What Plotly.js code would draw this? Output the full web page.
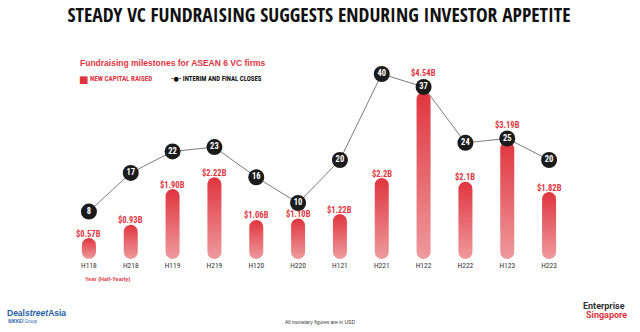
<!DOCTYPE html>
<html>
<head>
<meta charset="utf-8">
<script src="https://cdn.plot.ly/plotly-3.0.1.min.js"></script>
<style>html,body{margin:0;padding:0;background:#fff;}#chart{width:640px;height:332px;}</style>
</head>
<body>
<div id="chart"></div>
<script>
// ---- data ----
const periods = ["H118","H218","H119","H219","H120","H220","H121","H221","H122","H222","H123","H223"];
const capitalRaised = [0.57, 0.93, 1.90, 2.22, 1.06, 1.10, 1.22, 2.2, 4.54, 2.1, 3.19, 1.82];
const capitalLabels = ["$0.57B","$0.93B","$1.90B","$2.22B","$1.06B","$1.10B","$1.22B","$2.2B","$4.54B","$2.1B","$3.19B","$1.82B"];
const closes = [8, 17, 22, 23, 16, 10, 20, 40, 37, 24, 25, 20];

// ---- layout geometry ----
const W = 640, H = 332;
const M = {l: 68, r: 70, t: 60, b: 73};
const PW = W - M.l - M.r, PH = H - M.t - M.b;
const xRange = [-0.5, 11.5];
const yRange = [0, 5.4076];
const y2Range = [-3.02, 43.26];
const COND = '"Roboto Condensed", "DejaVu Sans Condensed", sans-serif';
const HEAVY = '"Open Sans Condensed", "Roboto Condensed", "DejaVu Sans Condensed", sans-serif';
const RED = '#e0353f';

const pxPerX = PW / (xRange[1] - xRange[0]);
const pxPerY = PH / (yRange[1] - yRange[0]);
const yPx = v => M.t + PH - (v - yRange[0]) * pxPerY;
const y2Px = v => M.t + PH - (v - y2Range[0]) / (y2Range[1] - y2Range[0]) * PH;
const px2paperX = px => (px - M.l) / PW;
const py2paperY = py => (M.t + PH - py) / PH;

const traces = [];
const xIdx = periods.map((_, i) => i);

// capsule-shaped bars with vertical gradient
const halfWpx = 7;
periods.forEach((p, i) => {
  const v = capitalRaised[i];
  const hx = halfWpx / pxPerX;
  const ry = halfWpx / pxPerY;
  const xs = [], ys = [];
  const n = 16;
  for (let k = 0; k <= n; k++) {
    const a = Math.PI * k / n;
    xs.push(i + hx * Math.cos(a));
    ys.push((v - ry) + ry * Math.sin(a));
  }
  for (let k = 0; k <= n; k++) {
    const a = Math.PI + Math.PI * k / n;
    xs.push(i + hx * Math.cos(a));
    ys.push(ry + ry * Math.sin(a));
  }
  xs.push(xs[0]); ys.push(ys[0]);
  traces.push({
    x: xs, y: ys, type: 'scatter', mode: 'lines', fill: 'toself',
    line: {width: 0, color: 'rgba(0,0,0,0)'},
    fillcolor: RED,
    fillgradient: {type: 'vertical', colorscale: [[0, '#ee9a9d'], [1, RED]]},
    hoverinfo: 'skip', showlegend: false, xaxis: 'x', yaxis: 'y'
  });
});

// closes line
traces.push({
  x: xIdx, y: closes, type: 'scatter', mode: 'lines+markers+text',
  yaxis: 'y2', xaxis: 'x',
  line: {color: '#7c7c7c', width: 1},
  marker: {size: 16, color: '#1b1b1b'},
  text: closes.map(String), textposition: 'middle center',
  textfont: {family: COND, size: 8.5, color: '#ffffff', weight: 'bold'},
  hoverinfo: 'skip', showlegend: false, cliponaxis: false
});

// bar value labels (lifted above the marker when the marker sits on the bar top)
const annotations = [];
periods.forEach((p, i) => {
  const v = capitalRaised[i];
  const topPx = yPx(v);
  const cPx = y2Px(closes[i]);
  let shift = -2.5;
  if (Math.abs(cPx - topPx) < 10) shift = (topPx - (cPx - 6.5));
  annotations.push({
    x: i, y: v, xref: 'x', yref: 'y', yanchor: 'bottom', yshift: shift,
    text: capitalLabels[i], showarrow: false,
    font: {family: COND, size: 8.5, color: RED, weight: 'bold'}
  });
});

function paperText(px, py, text, font, xanchor) {
  annotations.push({
    x: px2paperX(px), y: py2paperY(py), xref: 'paper', yref: 'paper',
    xanchor: xanchor || 'left', yanchor: 'middle', text: text, showarrow: false,
    font: font
  });
}
// subtitle and legend
paperText(78, 63, 'Fundraising milestones for ASEAN 6 VC firms', {family: '"Liberation Sans", Arial, sans-serif', size: 8.5, color: RED, weight: 'bold'});
paperText(77, 79, '<span style="font-size:10px">■</span>', {family: 'DejaVu Sans', size: 8, color: RED});
paperText(88, 79, 'NEW CAPITAL RAISED', {family: COND, size: 7, color: RED, weight: 'bold'});
paperText(169, 79, '-●- INTERIM AND FINAL CLOSES', {family: COND, size: 6.8, color: '#111', weight: 'bold'});
// x-axis caption
paperText(83, 279, 'Year (Half-Yearly)', {family: '"Liberation Sans", Arial, sans-serif', size: 5.5, color: RED, weight: 'bold'});
// footer
paperText(320, 322, 'All monetary figures are in USD', {family: '"Liberation Sans", Arial, sans-serif', size: 5, color: '#333'}, 'center');
paperText(5, 313, '<b>Deal<i>street</i>Asia</b>', {family: '"Liberation Sans", Arial, sans-serif', size: 8.5, color: '#1f5ca6'});
paperText(6, 321, '<b><i>NIKKEI</i></b> Group', {family: '"Liberation Sans", Arial, sans-serif', size: 4.5, color: '#1f5ca6'});
paperText(604, 306, 'Enterprise', {family: 'Roboto, sans-serif', size: 9, color: '#333', weight: 'bold'}, 'center');
paperText(606, 315, 'Singapore', {family: 'Roboto, sans-serif', size: 9, color: RED, weight: 'bold'}, 'center');

const layout = {
  width: W, height: H,
  margin: M,
  paper_bgcolor: '#ffffff', plot_bgcolor: '#ffffff',
  showlegend: false,
  title: {
    text: 'STEADY VC FUNDRAISING SUGGESTS ENDURING INVESTOR APPETITE',
    x: 0.5, xanchor: 'center', xref: 'paper',
    y: 1 - 15 / H, yref: 'container', yanchor: 'middle',
    font: {family: HEAVY, size: 19.5, color: '#111', weight: 'bold'}
  },
  xaxis: {
    range: xRange, tickmode: 'array', tickvals: xIdx, ticktext: periods,
    showgrid: false, zeroline: false, showline: false, ticks: '',
    tickfont: {family: COND, size: 7.5, color: '#333'}, fixedrange: true
  },
  yaxis: {range: yRange, visible: false, fixedrange: true},
  yaxis2: {range: y2Range, overlaying: 'y', visible: false, fixedrange: true},
  annotations: annotations
};

Plotly.newPlot('chart', traces, layout, {staticPlot: true, displayModeBar: false});
</script>
</body>
</html>
